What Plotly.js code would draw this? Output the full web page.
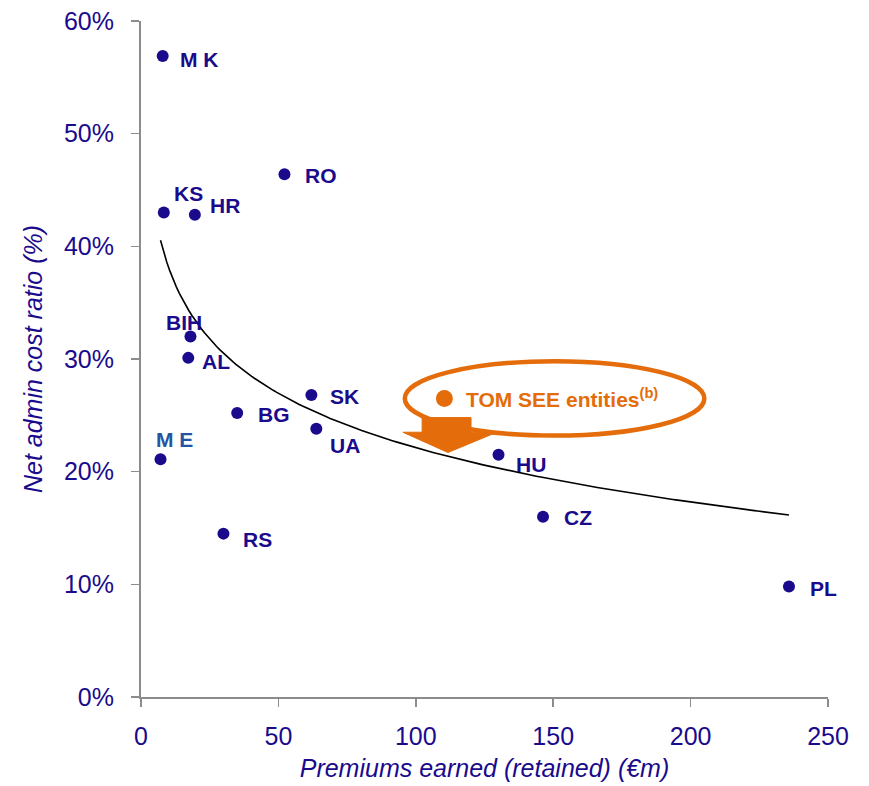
<!DOCTYPE html>
<html>
<head>
<meta charset="utf-8">
<script src="https://cdn.plot.ly/plotly-3.0.1.min.js"></script>
<style>html,body{margin:0;padding:0;background:#fff;}#chart{width:869px;height:786px;}</style>
</head>
<body>
<div id="chart"></div>
<script>
// ---- Data ----
const countries = ['MK','KS','HR','RO','BIH','AL','ME','BG','SK','UA','RS','HU','CZ','PL'];
const labels    = ['M K','KS','HR','RO','BIH','AL','M E','BG','SK','UA','RS','HU','CZ','PL'];
const premiums  = [7.9, 8.3, 19.6, 52.2, 18.0, 17.2, 7.1, 35.0, 62.0, 63.8, 30.0, 130.1, 146.3, 235.8];
const costRatio = [56.9, 43.0, 42.8, 46.4, 32.0, 30.1, 21.1, 25.2, 26.8, 23.8, 14.5, 21.5, 16.0, 9.8];
const tomLabel = 'TOM SEE entities<sup>(b)</sup>';
const tomPremium = [110.4];
const tomRatio = [26.5];
const xTicks = [0, 50, 100, 150, 200, 250];
const yTicks = [0, 10, 20, 30, 40, 50, 60];

// ---- Styles / positions (not data) ----
const navy = '#1A0A8C';
const meBlue = '#2455A4';
const orange = '#E46C0A';
// label offsets in pixels [dx right, dy down] from each marker
const labelOffsets = [[37,4],[25,-19],[30,-9],[37,1],[-6,-14],[28,4],[14,-20],[37,1],[33,1],[29,17],[34,6],[32,10],[35,1],[35,2]];

// ---- Logarithmic trend line fitted on all points ----
const allX = premiums.concat(tomPremium);
const allY = costRatio.concat(tomRatio);
const lx = allX.map(Math.log);
const n = lx.length;
const mx = lx.reduce((a,b)=>a+b,0)/n;
const my = allY.reduce((a,b)=>a+b,0)/n;
let sxy = 0, sxx = 0;
for (let i=0;i<n;i++){ sxy += (lx[i]-mx)*(allY[i]-my); sxx += (lx[i]-mx)*(lx[i]-mx); }
const slope = sxy/sxx, intercept = my - slope*mx;
const xMin = Math.min(...allX), xMax = Math.max(...allX);
const trendX = [], trendY = [];
for (let i=0;i<=200;i++){ const x = xMin + (xMax-xMin)*i/200; trendX.push(x); trendY.push(intercept + slope*Math.log(x)); }

const traces = [
  {x: trendX, y: trendY, mode: 'lines', line: {color: '#000', width: 1.6}, hoverinfo: 'skip', showlegend: false},
  {x: premiums, y: costRatio, mode: 'markers', marker: {color: navy, size: 12}, showlegend: false, text: countries},
  {x: tomPremium, y: tomRatio, mode: 'markers', marker: {color: orange, size: 17}, showlegend: false}
];

const labelFont = {family: 'Liberation Sans, Arial, sans-serif', size: 21, color: navy, weight: 'bold'};
const annotations = labels.map((t,i)=>({
  x: premiums[i], y: costRatio[i], xref: 'x', yref: 'y',
  text: '<b>' + t + '</b>', showarrow: false,
  xanchor: 'center', yanchor: 'middle',
  xshift: labelOffsets[i][0], yshift: -labelOffsets[i][1],
  font: Object.assign({}, labelFont, {color: t === 'M E' ? meBlue : navy})
}));
annotations.push({
  x: tomPremium[0], y: tomRatio[0], xref: 'x', yref: 'y',
  text: '<b>' + tomLabel + '</b>', showarrow: false,
  xanchor: 'left', yanchor: 'middle', xshift: 20, yshift: 0,
  font: {family: 'Liberation Sans, Arial, sans-serif', size: 21, color: orange}
});

const shapes = [
  {type: 'circle', xref: 'x', yref: 'y', x0: 96, x1: 205, y0: 23.2, y1: 29.8,
   line: {color: orange, width: 4.5}, fillcolor: 'rgba(0,0,0,0)'},
  {type: 'path', xref: 'x', yref: 'y',
   path: 'M 102.3,24.8 L 120.1,24.8 L 120.1,23.5 L 129.5,23.5 L 111.7,21.7 L 95.3,23.5 L 102.3,23.5 Z',
   fillcolor: orange, line: {color: orange, width: 1}}
];

const tickFont = {family: 'Liberation Sans, Arial, sans-serif', size: 25, color: navy};
const titleFont = {family: 'Liberation Sans, Arial, sans-serif', size: 25, color: navy, style: 'italic'};

const layout = {
  width: 869, height: 786,
  margin: {l: 140.5, r: 41, t: 21, b: 89, pad: 0},
  paper_bgcolor: '#fff', plot_bgcolor: '#fff',
  showlegend: false,
  xaxis: {
    range: [0, 250], tickvals: xTicks, ticktext: xTicks.map(String),
    showgrid: false, zeroline: false, showline: true, linecolor: '#8c8c8c', linewidth: 2,
    ticks: 'outside', ticklen: 8, tickwidth: 1.5, tickcolor: '#8c8c8c',
    tickfont: tickFont, ticklabelstandoff: 8,
    title: {text: 'Premiums earned (retained) (€m)', font: titleFont, standoff: 10}
  },
  yaxis: {
    range: [0, 60], tickvals: yTicks, ticktext: yTicks.map(v=>v+'%'),
    showgrid: false, zeroline: false, showline: true, linecolor: '#8c8c8c', linewidth: 2,
    ticks: 'outside', ticklen: 8, tickwidth: 1.5, tickcolor: '#8c8c8c',
    tickfont: tickFont, ticklabelstandoff: 12,
    title: {text: 'Net admin cost ratio (%)', font: titleFont, standoff: 14}
  },
  annotations: annotations,
  shapes: shapes
};

Plotly.newPlot('chart', traces, layout, {displayModeBar: false, staticPlot: true});
</script>
</body>
</html>
